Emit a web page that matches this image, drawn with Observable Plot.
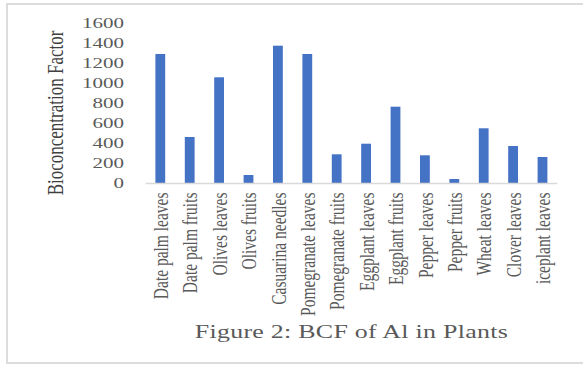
<!DOCTYPE html>
<html>
<head>
<meta charset="utf-8">
<script src="https://cdn.jsdelivr.net/npm/d3@7"></script>
<script src="https://cdn.jsdelivr.net/npm/@observablehq/plot@0.6"></script>
<style>
  html, body { margin: 0; padding: 0; overflow: hidden; background: #fff; width: 583px; height: 367px; }
  #frame { position: absolute; left: 6px; top: 3px; width: 700px; height: 357px; border: 2px solid #dcdcdc; }
  #stretch { position: absolute; left: 0; top: 0; width: 417px; height: 367px; transform: scaleX(1.4); transform-origin: 0 0; }
  #caption { position: absolute; left: 90px; width: 322px; top: 321px; height: 22px; line-height: 22px;
             text-align: center; font-family: "Liberation Serif", "Times New Roman", serif; font-size: 18.5px;
             letter-spacing: 0.2px; color: #595959; white-space: nowrap; }
</style>
</head>
<body>
<div id="frame"></div>
<div id="stretch">
  <div id="chart"></div>
  <div id="caption">Figure 2: BCF of Al in Plants</div>
</div>
<script>
// Bioconcentration factor of aluminium by plant part
const plants = [
  "Date palm leaves", "Date palm fruits", "Olives leaves", "Olives fruits",
  "Casuarina needles", "Pomegranate leaves", "Pomegranate fruits", "Eggplant leaves",
  "Eggplant fruits", "Pepper leaves", "Pepper fruits", "Wheat leaves",
  "Clover leaves", "iceplant leaves"
];
const bcf = [1290, 460, 1057, 80, 1373, 1290, 287, 393, 763, 277, 40, 547, 370, 260];
const yTicks = [0, 200, 400, 600, 800, 1000, 1200, 1400, 1600];
const yTitle = "Bioconcentration Factor";

const rows = plants.map((plant, i) => ({plant, value: bcf[i]}));

const serif = "'Liberation Serif', 'Times New Roman', serif";

const chart = Plot.plot({
  width: 417,
  height: 320,
  marginLeft: 104,
  marginRight: 19,
  marginTop: 23,
  marginBottom: 137,
  style: {fontFamily: serif, background: "transparent", overflow: "visible"},
  x: {type: "band", domain: plants, paddingInner: 0.69, paddingOuter: 0.345},
  y: {domain: [0, 1600]},
  marks: [
    Plot.barY(rows, {x: "plant", y: "value", fill: "#4472C4"}),
    Plot.ruleY([0], {stroke: "#d9d9d9", strokeWidth: 1.5}),
    Plot.axisY({ticks: yTicks, tickSize: 0, tickPadding: 16, tickFormat: "d",
                fontSize: 15, fill: "#595959", label: null}),
    Plot.axisX({tickRotate: -90, tickSize: 0, tickPadding: 9,
                fontSize: 15.5, fill: "#595959", label: null}),
    Plot.text([yTitle], {frameAnchor: "left", textAnchor: "middle", rotate: -90, dx: -65, dy: 9.5,
                         fontSize: 17, fill: "#404040", fontFamily: serif})
  ]
});
document.getElementById("chart").appendChild(chart);
</script>
</body>
</html>
